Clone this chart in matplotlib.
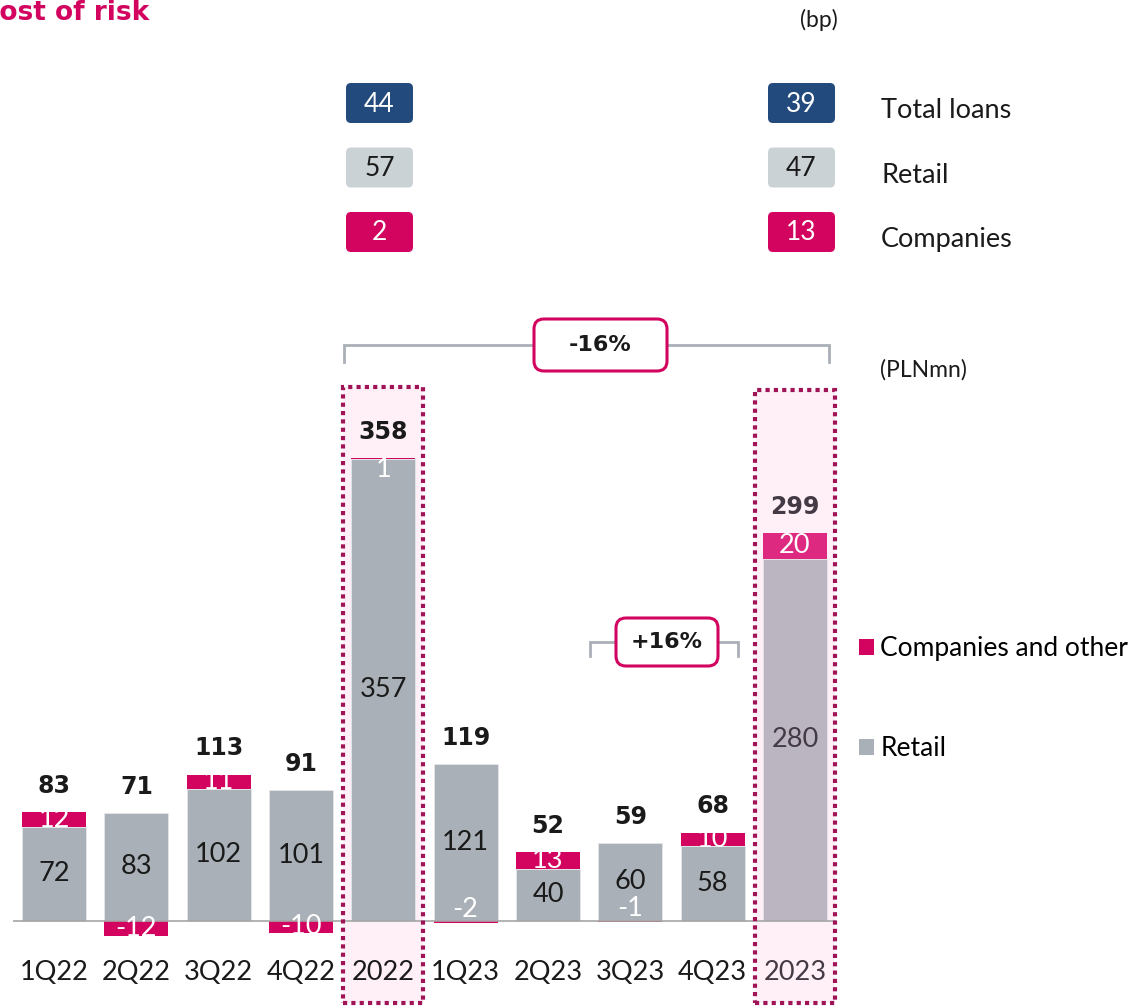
import matplotlib.pyplot as plt
from matplotlib.patches import Rectangle, FancyBboxPatch, Patch

# data
periods = ['1Q22', '2Q22', '3Q22', '4Q22', '2022', '1Q23', '2Q23', '3Q23', '4Q23', '2023']
retail = [72, 83, 102, 101, 357, 121, 40, 60, 58, 280]
companies = [12, -12, 11, -10, 1, -2, 13, -1, 10, 20]
totals = [83, 71, 113, 91, 358, 119, 52, 59, 68, 299]

bp_rows = ['Total loans', 'Retail', 'Companies']
bp_2022 = [44, 57, 2]
bp_2023 = [39, 47, 13]

yoy_change = '-16%'
qoq_change = '+16%'

# colours
MAG = '#D2045F'
MAG_DARK = '#9E1457'
NAVY = '#224A7C'
LGREY = '#CBD2D6'
GREY = '#A9B0B7'
PINK = '#FEF0F6'
TXT = '#1A1A1A'

REG = ['Lato', 'DejaVu Sans']
BOLD = ['DejaVu Sans']

W, H = 1139, 1007
fig = plt.figure(figsize=(W / 100, H / 100), dpi=100)
ax = fig.add_axes([0, 0, 1, 1])
# pixel <-> data mapping for the bar axes
X0, DX = 54, 82.33
Y0, DY = 920.5, 1.292
ax.set_xlim(-X0 / DX, (W - X0) / DX)
ax.set_ylim(-(H - Y0) / DY, Y0 / DY)
ax.axis('off')


def dy(py):
    return (Y0 - py) / DY


# overlay in pixel coords for annotations
ov = fig.add_axes([0, 0, 1, 1], facecolor='none')
ov.set_xlim(0, W)
ov.set_ylim(H, 0)
ov.axis('off')

# highlight frames for full years
for name, top in [('2022', 387), ('2023', 390)]:
    i = periods.index(name)
    ax.add_patch(Rectangle((i - 0.486, dy(1003)), 0.972, dy(top) - dy(1003),
                           facecolor=PINK, edgecolor='none', zorder=0))
    ax.add_patch(Rectangle((i - 0.486, dy(1003)), 0.972, dy(top) - dy(1003),
                           facecolor='none', edgecolor=MAG_DARK, lw=3,
                           linestyle=(0, (1, 1)), zorder=5, clip_on=False))

x = list(range(len(periods)))
for i in x:
    last = periods[i] == '2023'
    rc = '#BAB5C0' if last else GREY
    cc = '#DE2980' if last else MAG
    tc = '#433A45' if last else TXT
    r, c = retail[i], companies[i]
    ax.bar(i, r, width=0.78, color=rc, edgecolor='#E4E6E8', lw=0.6, zorder=2)
    cb = r if c > 0 else 0
    ax.bar(i, c, bottom=cb, width=0.78, color=cc, edgecolor='none', zorder=3)
    # labels
    ax.text(i, r / 2, str(r), ha='center', va='center', fontsize=19.5,
            family=REG, color=tc, zorder=6)
    mid = cb + c / 2
    off = 0
    if abs(c) < 5:
        off = -8 if c > 0 else 9
    ax.annotate(str(c), (i, mid), xytext=(0, off), textcoords='offset points',
                ha='center', va='center', fontsize=19.5, family=REG,
                color='white', zorder=6)
    top = r + max(c, 0)
    ax.annotate(str(totals[i]), (i, top), xytext=(0, 19),
                textcoords='offset points', ha='center', va='center',
                fontsize=17, fontweight='bold', family=BOLD, color=tc, zorder=6)
    ax.text(i, dy(973), periods[i], ha='center', va='center', fontsize=19.5,
            family=REG, color=tc, zorder=6)

ax.hlines(0, -0.5, 9.5, color='#A6A6A6', lw=1.2, zorder=4)

# title, units
fig.text(-20 / W, 1 - 13 / H, 'Cost of risk', ha='left', va='center',
         fontsize=19, fontweight='bold', color=MAG, family=BOLD)
ov.text(838, 20, '(bp)', ha='right', va='center', fontsize=16.5, family=REG, color=TXT)
ov.text(880, 370, '(PLNmn)', ha='left', va='center', fontsize=16.5, family=REG, color=TXT)

# bp boxes
box_fc = [NAVY, LGREY, MAG]
box_tc = ['white', TXT, 'white']
for k, lab in enumerate(bp_rows):
    yc = 103 + 64.5 * k
    for xl, val in [(346, bp_2022[k]), (768, bp_2023[k])]:
        ov.add_patch(FancyBboxPatch((xl, yc - 20), 67, 40,
                                    boxstyle='round,pad=0,rounding_size=5',
                                    facecolor=box_fc[k], edgecolor='none'))
        ov.text(xl + 33.5, yc + 1, str(val), ha='center', va='center',
                fontsize=19, family=REG, color=box_tc[k])
    ov.text(881, yc + 8, lab, ha='left', va='center', fontsize=19.5,
            family=REG, color=TXT)


def bracket(x1, x2, y, drop, bx, bw, bh, label):
    ov.plot([x1, x1, x2, x2], [y + drop, y, y, y + drop], color=GREY, lw=2,
            solid_joinstyle='miter')
    ov.add_patch(FancyBboxPatch((bx, y - bh / 2), bw, bh,
                                boxstyle='round,pad=0,rounding_size=10',
                                facecolor='white', edgecolor=MAG, lw=2.2, zorder=5))
    ov.text(bx + bw / 2, y, label, ha='center', va='center', fontsize=16,
            fontweight='bold', family=BOLD, color=TXT, zorder=6)


bracket(344, 829, 345, 17, 534, 133, 52, yoy_change)
bracket(590, 738, 642, 14, 616, 102, 48, qoq_change)

# legend
handles = [Patch(facecolor=MAG, label='Companies and other'),
           Patch(facecolor=GREY, label='Retail')]
fig.legend(handles=handles, loc='upper left', bbox_to_anchor=(846 / W, 1 - 623 / H),
           frameon=False, prop={'family': REG, 'size': 19}, handlelength=0.55,
           handleheight=0.55, handletextpad=0.25, labelspacing=2.85, borderpad=0)

fig.savefig('out.png', dpi=100)
